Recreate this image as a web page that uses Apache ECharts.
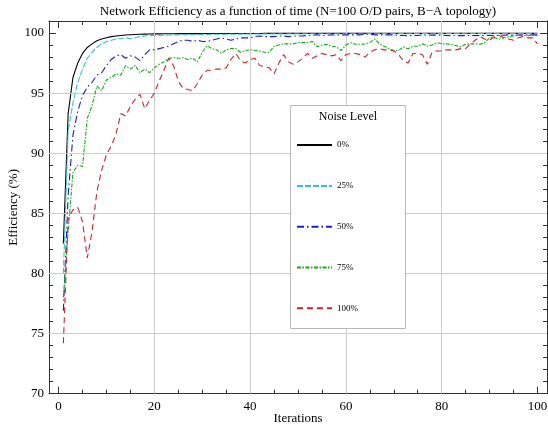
<!DOCTYPE html>
<html>
<head>
<meta charset="utf-8">
<script src="https://cdn.jsdelivr.net/npm/echarts@6.0.0/dist/echarts.min.js"></script>
<style>html,body{margin:0;padding:0;background:#fff;}#chart{width:548px;height:427px;}</style>
</head>
<body>
<div id="chart"></div>
<script>
// ---- data ----
const iterations = Array.from({length: 100}, (_, k) => k + 1);
const seriesNames = ['0%', '25%', '50%', '75%', '100%'];
const eff0 = [82.5,93.3,96.3,97.5,98.3,98.8,99.1,99.35,99.5,99.6,
  99.7,99.75,99.8,99.83,99.86,99.88,99.9,99.91,99.92,99.93,
  99.93,99.94,99.94,99.94,99.95,99.95,99.95,99.95,99.95,99.96,
  99.96,99.96,99.96,99.96,99.96,99.96,99.96,99.96,99.96,99.96,
  99.96,99.96,99.97,99.97,99.97,99.97,99.97,99.97,99.97,99.97,
  99.97,99.97,99.97,99.97,99.97,99.97,99.97,99.97,99.97,99.97,
  99.97,99.97,99.97,99.97,99.97,99.97,99.97,99.97,99.97,99.97,
  99.97,99.97,99.97,99.97,99.97,99.97,99.97,99.97,99.97,99.97,
  99.97,99.97,99.97,99.97,99.97,99.97,99.97,99.97,99.97,99.97,
  99.97,99.97,99.97,99.97,99.97,99.97,99.97,99.97,99.97,99.97];
const eff25 = [80.0,91.8,94.2,95.9,97.0,97.9,98.4,98.8,99.1,99.3,
  99.4,99.5,99.55,99.6,99.55,99.6,99.7,99.75,99.78,99.8,
  99.8,99.82,99.83,99.85,99.84,99.86,99.87,99.86,99.88,99.89,
  99.88,99.9,99.9,99.89,99.9,99.91,99.9,99.91,99.92,99.91,
  99.92,99.92,99.93,99.92,99.93,99.93,99.92,99.93,99.94,99.93,
  99.93,99.94,99.94,99.93,99.94,99.94,99.94,99.93,99.94,99.94,
  99.94,99.95,99.94,99.94,99.95,99.94,99.95,99.95,99.94,99.95,
  99.95,99.95,99.94,99.95,99.95,99.95,99.95,99.94,99.95,99.95,
  99.95,99.95,99.95,99.95,99.94,99.95,99.95,99.95,99.95,99.95,
  99.95,99.95,99.95,99.95,99.95,99.95,99.95,99.95,99.95,99.95];
const eff50 = [76.9,86.5,91.5,93.5,94.8,95.5,95.9,96.5,96.7,97.3,
  97.8,98.1,98.2,97.9,98.1,98.0,97.7,98.2,98.6,98.6,
  98.7,98.8,98.9,99.1,99.3,99.4,99.4,99.3,99.4,99.3,
  99.3,99.4,99.5,99.6,99.5,99.4,99.5,99.6,99.6,99.6,
  99.7,99.75,99.7,99.7,99.7,99.75,99.75,99.7,99.75,99.75,
  99.75,99.8,99.8,99.85,99.8,99.8,99.85,99.8,99.85,99.85,
  99.85,99.85,99.85,99.9,99.9,99.85,99.85,99.85,99.85,99.85,
  99.8,99.8,99.78,99.8,99.8,99.85,99.8,99.83,99.82,99.83,
  99.8,99.78,99.77,99.8,99.78,99.8,99.78,99.8,99.78,99.8,
  99.78,99.8,99.82,99.85,99.8,99.83,99.85,99.83,99.85,99.85];
const eff75 = [78.0,83.5,88.4,89.0,88.9,92.9,94.0,95.6,95.2,96.1,
  96.3,96.6,96.5,97.3,97.0,97.3,96.7,97.0,96.7,97.1,
  97.4,97.6,97.9,97.95,97.9,97.95,97.8,97.9,97.6,98.4,
  98.95,98.7,98.6,98.3,98.6,98.7,98.7,98.4,98.55,98.6,
  98.55,98.5,98.4,98.4,98.9,99.0,99.1,99.1,99.1,99.2,
  99.2,99.2,99.3,98.85,99.0,99.06,98.9,98.85,98.55,99.0,
  99.2,99.06,99.06,99.1,99.2,99.5,99.1,98.9,98.7,98.55,
  98.55,98.85,98.7,98.9,98.9,99.1,98.9,99.0,99.2,99.1,
  99.1,99.06,98.95,98.85,99.06,99.1,99.1,99.06,99.2,99.6,
  99.6,99.5,99.6,99.7,99.75,99.8,99.8,99.8,99.8,99.8];
const eff100 = [74.2,84.6,85.3,85.5,84.3,81.3,83.5,86.8,88.6,89.9,
  90.6,91.6,93.3,93.1,93.9,94.5,94.9,93.7,94.4,95.0,
  96.0,96.9,97.9,97.3,96.0,95.4,95.3,95.2,95.8,96.5,
  96.9,96.9,97.0,97.0,97.1,97.8,98.3,97.7,97.5,97.8,
  97.9,97.3,97.2,97.1,96.6,97.5,98.2,97.6,97.4,97.6,
  97.9,98.3,97.9,98.1,98.3,98.2,98.1,98.2,97.7,98.2,
  98.3,98.3,98.2,98.0,98.4,98.6,98.7,98.6,98.6,98.5,
  98.2,97.7,97.5,98.3,98.3,98.2,97.4,98.4,98.5,98.5,
  98.6,98.6,98.6,98.7,98.7,99.1,99.4,99.7,99.5,99.4,
  99.7,99.8,99.6,99.5,99.4,99.6,99.7,99.6,99.6,99.1];
const xMajorTicks = [0, 20, 40, 60, 80, 100];
const xMinorTicks = [5,10,15,25,30,35,45,50,55,65,70,75,85,90,95];
const yMajorTicks = [70, 75, 80, 85, 90, 95, 100];
const yMinorTicks = [71,72,73,74,76,77,78,79,81,82,83,84,86,87,88,89,91,92,93,94,96,97,98,99];
const xGridLines = [20, 40, 60, 80];
const yGridLines = [75, 80, 85, 90, 95];

// ---- styles ----
const FONT = '"Liberation Serif", "Times New Roman", serif';
const FRAME = '#333';
const colors = ['#000000', '#33c6c6', '#1c1cc8', '#14aa14', '#c82626'];
const dashes = ['solid', [6, 2], [7, 3, 1.5, 3], [4, 1.5, 1.5, 1.5], [6, 4]];
const values = [eff0, eff25, eff50, eff75, eff100];

function xAxisDef(pos, ticks, len, showLine, showLabel, extra) {
  return Object.assign({
    type: 'value', min: -2, max: 102, position: pos,
    axisLine: {show: showLine, onZero: false, lineStyle: {color: FRAME, width: 1}},
    axisTick: {show: true, inside: true, length: len, customValues: ticks, lineStyle: {color: FRAME, width: 1}},
    axisLabel: {show: showLabel, customValues: ticks, color: '#000', fontFamily: FONT, fontSize: 13, margin: 6},
    splitLine: {show: false}, minorTick: {show: false}
  }, extra || {});
}
function yAxisDef(pos, ticks, len, showLine, showLabel, extra) {
  return Object.assign({
    type: 'value', min: 70, max: 101, position: pos,
    axisLine: {show: showLine, onZero: false, lineStyle: {color: FRAME, width: 1}},
    axisTick: {show: true, inside: true, length: len, customValues: ticks, lineStyle: {color: FRAME, width: 1}},
    axisLabel: {show: showLabel, customValues: ticks, color: '#000', fontFamily: FONT, fontSize: 13, margin: 5},
    splitLine: {show: false}, minorTick: {show: false}
  }, extra || {});
}

const series = [{
  name: 'grid', type: 'line', data: iterations.map((x, k) => [x, eff0[k]]),
  symbol: 'none', lineStyle: {opacity: 0}, z: 1, silent: true,
  markLine: {
    silent: true, symbol: 'none', animation: false,
    label: {show: false},
    lineStyle: {color: '#cccccc', type: 'solid', width: 1},
    data: xGridLines.map(v => ({xAxis: v})).concat(yGridLines.map(v => ({yAxis: v})))
  }
}];
seriesNames.forEach((nm, i) => {
  series.push({
    name: nm, type: 'line', symbol: 'none', z: 3 + i, animation: false,
    data: iterations.map((x, k) => [x, values[i][k]]),
    lineStyle: {color: colors[i], width: 1.1, type: dashes[i]},
    itemStyle: {color: colors[i]}
  });
});

const chart = echarts.init(document.getElementById('chart'), null, {renderer: 'canvas'});
chart.setOption({
  animation: false,
  backgroundColor: '#ffffff',
  grid: {left: 49, right: 1, top: 21, bottom: 33.3, containLabel: false, outerBoundsMode: 'none'},
  xAxis: [
    xAxisDef('bottom', xMajorTicks, 7, true, true, {name: 'Iterations', nameLocation: 'middle', nameGap: 18,
      nameMoveOverlap: false, nameTextStyle: {color: '#000', fontFamily: FONT, fontSize: 13}}),
    xAxisDef('bottom', xMinorTicks, 4, false, false),
    xAxisDef('top', xMajorTicks, 7, true, false),
    xAxisDef('top', xMinorTicks, 4, false, false)
  ],
  yAxis: [
    yAxisDef('left', yMajorTicks, 7, true, true, {name: 'Efficiency (%)', nameLocation: 'middle', nameGap: 29,
      nameMoveOverlap: false, nameTextStyle: {color: '#000', fontFamily: FONT, fontSize: 13}}),
    yAxisDef('left', yMinorTicks, 4, false, false),
    yAxisDef('right', yMajorTicks, 7, true, false),
    yAxisDef('right', yMinorTicks, 4, false, false)
  ],
  legend: {
    data: seriesNames, orient: 'vertical', left: 296, top: 139.5, z: 100,
    itemWidth: 35, itemHeight: 14, itemGap: 29.6, padding: 0,
    itemStyle: {opacity: 0},
    textStyle: {color: '#000', fontFamily: FONT, fontSize: 9},
    selectedMode: false
  },
  graphic: [
    {type: 'text', x: 298, y: 12, z: 100, style: {text: 'Network Efficiency as a function of time (N=100 O/D pairs, B\u2212A topology)',
      textAlign: 'center', textVerticalAlign: 'middle', fill: '#000', font: '13px ' + FONT}},
    {type: 'rect', z: 50, shape: {x: 290.5, y: 105.5, width: 115, height: 223},
      style: {fill: '#ffffff', stroke: '#b8b8b8', lineWidth: 1}},
    {type: 'text', x: 348, y: 117, z: 60, style: {text: 'Noise Level', textAlign: 'center', textVerticalAlign: 'middle',
      fill: '#000', font: '12px ' + FONT}}
  ],
  series: series
});
</script>
</body>
</html>
